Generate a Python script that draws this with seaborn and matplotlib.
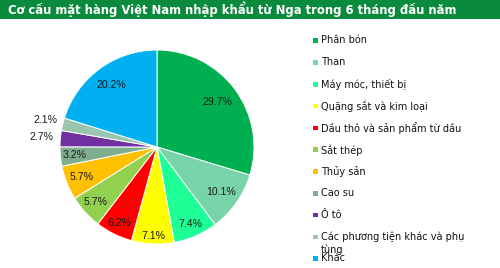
import matplotlib
matplotlib.use("Agg")
import matplotlib.pyplot as plt
import seaborn as sns
from matplotlib.patches import Rectangle
import numpy as np

categories = ["Phân bón", "Than", "Máy móc, thiết bị", "Quặng sắt và kim loại",
              "Dầu thô và sản phẩm từ dầu", "Sắt thép", "Thủy sản", "Cao su", "Ô tô",
              "Các phương tiện khác và phụ\ntùng", "Khác"]
values = [29.7, 10.1, 7.4, 7.1, 6.2, 5.7, 5.7, 3.2, 2.7, 2.1, 20.2]
pct_labels = ["29.7%", "10.1%", "7.4%", "7.1%", "6.2%", "5.7%", "5.7%", "3.2%", "2.7%", "2.1%", "20.2%"]
colors = ["#00B050", "#77D3A8", "#1EFF96", "#FFFF00", "#FF0000", "#92D050",
          "#FFC000", "#7FAE8F", "#7030A0", "#99C6AE", "#00B0F0"]
title = "Cơ cấu mặt hàng Việt Nam nhập khẩu từ Nga trong 6 tháng đầu năm"

sns.set_theme(style="white")
plt.rcParams["font.family"] = ["DejaVu Sans"]

W, H = 500, 268
fig = plt.figure(figsize=(W / 100, H / 100), dpi=100)
fig.patch.set_facecolor("white")

# title bar
fig.patches.append(Rectangle((0, 1 - 19 / H), 1, 19 / H, transform=fig.transFigure,
                             facecolor="#0A8A3C", edgecolor="none", zorder=0))
t = fig.text(8 / W, 1 - 9.5 / H, title, color="white", fontsize=9.6, fontweight="bold",
             ha="left", va="center")
fig.canvas.draw()
tw = t.get_window_extent(renderer=fig.canvas.get_renderer()).width
t.set_fontsize(9.6 * 449 / tw)

# pie axes
cx, cy, r = 157, 147, 97
ax = fig.add_axes([(cx - r) / W, (H - cy - r) / H, 2 * r / W, 2 * r / H])
wedges, _ = ax.pie(values, colors=colors, startangle=90, counterclock=False,
                   radius=1, wedgeprops=dict(edgecolor="white", linewidth=0.7))
ax.set_xlim(-1, 1)
ax.set_ylim(-1, 1)
ax.set_aspect("equal")
ax.axis("off")

dists = [0.77, 0.81, 0.87, 0.92, 0.87, 0.85, 0.84, 0.85, 1.19, 1.18, 0.79]
for w, lab, d in zip(wedges, pct_labels, dists):
    ang = np.deg2rad((w.theta1 + w.theta2) / 2)
    ax.text(d * np.cos(ang), d * np.sin(ang), lab, ha="center", va="center",
            fontsize=7.6, color="#1a1a1a", family=["Liberation Sans"], clip_on=False)

# legend
x_mark, x_text = 313, 321
y0, step = 40.7, 21.8
for i, (name, col) in enumerate(zip(categories, colors)):
    y = y0 + i * step
    fig.patches.append(Rectangle((x_mark / W, (H - y - 2.3) / H), 4.6 / W, 4.6 / H,
                                 transform=fig.transFigure, facecolor=col, edgecolor="none"))
    fig.text(x_text / W, (H - y + 5.5) / H, name, fontsize=7, color="#111111",
             ha="left", va="top", linespacing=1.25)

fig.savefig("out.png", dpi=100)
